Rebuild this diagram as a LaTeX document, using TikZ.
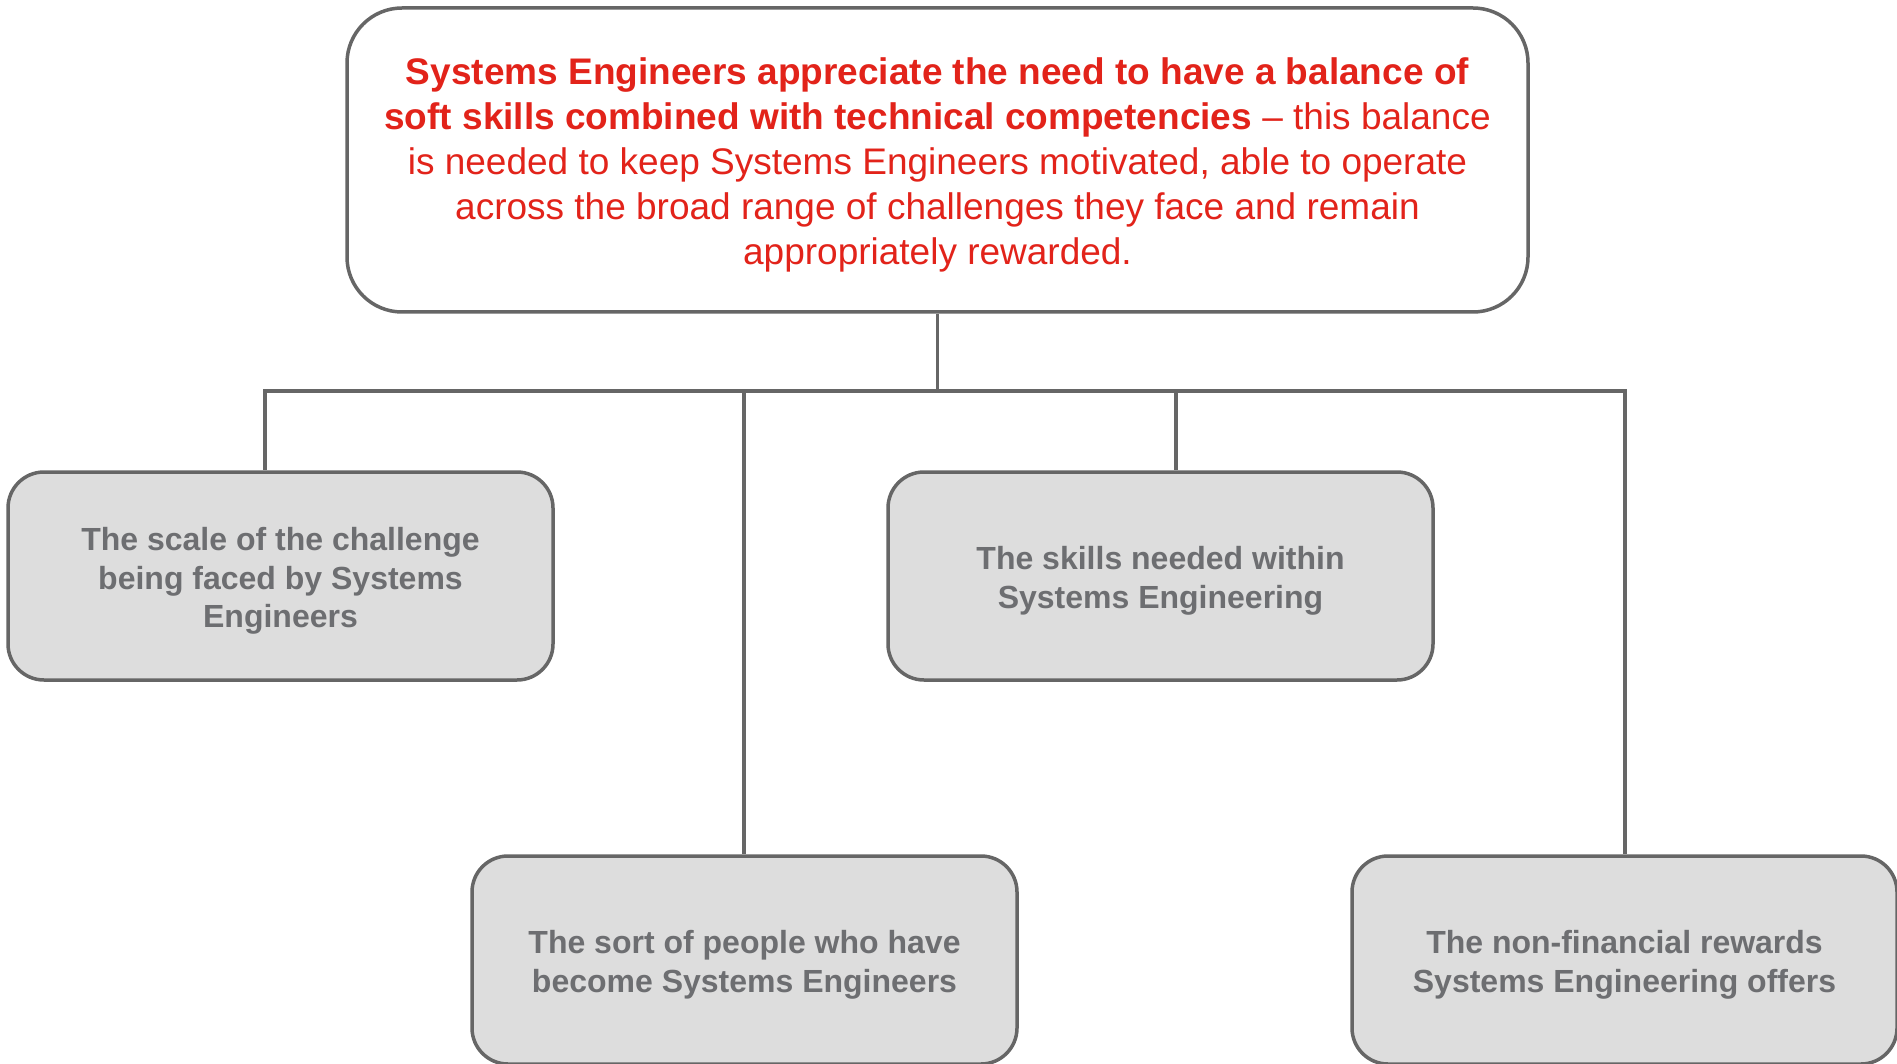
\documentclass[tikz,border=0pt]{standalone}
\usepackage{fontspec}
\setmainfont{Liberation Sans}
\definecolor{linegray}{HTML}{666666}
\definecolor{boxfill}{HTML}{DDDDDD}
\definecolor{boxtext}{HTML}{6D6E71}
\definecolor{headred}{HTML}{E2231A}
% tall strut on the first line to sit the text block a little lower in its box
\newcommand{\firstlinestrut}[1]{\rule{0pt}{#1}}
\begin{document}
\begin{tikzpicture}[x=1pt,y=-1pt,
  link/.style={draw=linegray,line width=3.5pt},
  headbox/.style={draw=linegray,line width=3.5pt,fill=white,rounded corners=55pt,
    minimum width=1181pt,minimum height=304pt,align=center,text=headred,
    font=\fontsize{37}{45}\selectfont},
  topicbox/.style={draw=linegray,line width=3.5pt,fill=boxfill,rounded corners=36pt,
    minimum width=545pt,minimum height=208pt,align=center,text=boxtext,
    font=\bfseries\fontsize{32}{38.5}\selectfont}]
\useasboundingbox (0,0) rectangle (1897,1064);

% central statement
\node[headbox] (top) at (937.5,160) {\firstlinestrut{37pt}\textbf{Systems Engineers appreciate the need to have a balance of}\\
\textbf{soft skills combined with technical competencies} -- this balance\\
is needed to keep Systems Engineers motivated, able to operate\\
across the broad range of challenges they face and remain\\
appropriately rewarded.};

% four supporting topics
\node[topicbox] (b1) at (280.5,576) {\firstlinestrut{33pt}The scale of the challenge\\being faced by Systems\\Engineers};
\node[topicbox] (b3) at (1160.5,576) {\firstlinestrut{33pt}The skills needed within\\Systems Engineering};
\node[topicbox] (b2) at (744.5,960) {\firstlinestrut{33pt}The sort of people who have\\become Systems Engineers};
\node[topicbox] (b4) at (1624.5,960) {\firstlinestrut{33pt}The non-financial rewards\\Systems Engineering offers};

% bus junctions
\coordinate (j1) at (265,391);
\coordinate (j2) at (744,391);
\coordinate (j3) at (1176,391);
\coordinate (j4) at (1625,391);

\draw[link] (top.south) -- (top.south |- j1);
\draw[link] ([xshift=-1.75pt]j1) -- ([xshift=1.75pt]j4);
\draw[link] (j1) -- (j1 |- b1.north);
\draw[link] (j2) -- (j2 |- b2.north);
\draw[link] (j3) -- (j3 |- b3.north);
\draw[link] (j4) -- (j4 |- b4.north);
\end{tikzpicture}
\end{document}
